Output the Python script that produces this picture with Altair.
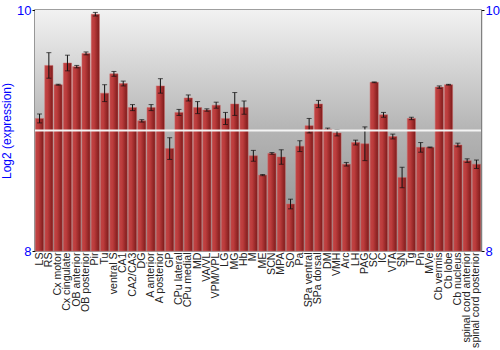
import altair as alt
import pandas as pd

regions = ["LS", "RS", "Cx motor", "Cx cingulate", "OB anterior", "OB posterior", "Pir", "Tu",
           "ventral S", "CA1", "CA2/CA3", "DG", "A anterior", "A posterior", "GP", "CPu lateral",
           "CPu medial", "MD", "VA/VL", "VPM/VPL", "LG", "MG", "Hb", "M", "ME", "SCN", "MPA", "SO",
           "Pa", "SPa ventral", "SPa dorsal", "DM", "VMH", "Arc", "LH", "PAG", "SC", "IC", "VTA",
           "SN", "Tg", "Pn", "MVe", "Cb vermis", "Cb lobe", "Cb nucleus", "spinal cord anterior",
           "spinal cord posterior"]
means = [9.10, 9.54, 9.38, 9.56, 9.53, 9.64, 9.965, 9.31,
         9.47, 9.39, 9.19, 9.08, 9.19, 9.37, 8.85, 9.15,
         9.27, 9.19, 9.17, 9.21, 9.10, 9.22, 9.19, 8.79, 8.63, 8.81, 8.78, 8.39,
         8.87, 9.04, 9.22, 9.01, 8.98, 8.72, 8.90, 8.89, 9.40, 9.13, 8.95,
         8.61, 9.10, 8.86, 8.86, 9.36, 9.38, 8.88, 8.75, 8.72]
errors = [0.037, 0.106, 0.004, 0.065, 0.01, 0.012, 0.015, 0.07,
          0.02, 0.02, 0.025, 0.01, 0.025, 0.06, 0.09, 0.025,
          0.025, 0.05, 0.01, 0.025, 0.05, 0.095, 0.055, 0.045, 0.005, 0.007, 0.06, 0.04,
          0.045, 0.06, 0.03, 0.01, 0.025, 0.015, 0.02, 0.14, 0.003, 0.02, 0.02,
          0.085, 0.01, 0.04, 0.003, 0.01, 0.003, 0.015, 0.015, 0.035]

df = pd.DataFrame({"region": regions, "mean": means, "err": errors})
df["lo"] = df["mean"] - df["err"]
df["hi"] = df["mean"] + df["err"]

W, H = 446, 241
blue = "#0000ff"
yscale = alt.Scale(domain=[8, 10], nice=False, zero=False)
xscale = alt.Scale(domain=regions, paddingInner=0.12, paddingOuter=0.05)
xaxis = alt.Axis(labelAngle=-90, labelFontSize=10.6, labelColor="#222222",
                 labelFont="Liberation Sans", ticks=False, domain=False,
                 labelPadding=1, title=None, labelOverlap=False, labelLimit=200)
xenc = alt.X("region:N", sort=regions, scale=xscale, axis=xaxis)


def yaxis(orient, title=None):
    kw = dict(orient=orient, values=[8, 9, 10], format="d", labelColor=blue,
              labelFontSize=13, labelFont="Liberation Sans", tickColor="#000000",
              tickSize=3, domainColor="#808080", domainWidth=1.5, grid=False,
              labelPadding=1)
    if title:
        kw.update(title=title, titleColor=blue, titleFontSize=12,
                  titleFont="Liberation Sans", titleFontWeight="normal", titlePadding=3)
    else:
        kw.update(title=None)
    return alt.Axis(**kw)


bg = alt.Chart(pd.DataFrame({"a": [0]})).mark_rect(
    color=alt.Gradient(gradient="linear", x1=0, x2=0, y1=0, y2=1,
                       stops=[alt.GradientStop(offset=0, color="#f2f2f2"),
                              alt.GradientStop(offset=0.5, color="#b4b4b4"),
                              alt.GradientStop(offset=1, color="#8c8c8c")])
).encode(x=alt.value(0), x2=alt.value(W), y=alt.value(0), y2=alt.value(H))

grid = alt.Chart(pd.DataFrame({"v": [9]})).mark_rule(color="#f4f4f4", strokeWidth=2).encode(
    y=alt.Y("v:Q", scale=yscale, axis=yaxis("right"))
)

bars = alt.Chart(df).mark_bar(
    color=alt.Gradient(gradient="linear", x1=0, x2=1, y1=0, y2=0,
                       stops=[alt.GradientStop(offset=0, color="#c04444"),
                              alt.GradientStop(offset=0.35, color="#bc3c3c"),
                              alt.GradientStop(offset=1, color="#7c1a1a")]),
    stroke="#d06868", strokeWidth=0.6, strokeOpacity=0.8
).encode(
    x=xenc,
    y=alt.Y("mean:Q", scale=yscale, axis=yaxis("left", "Log2 (expression)")),
    y2=alt.datum(8),
)

eb = alt.Chart(df).mark_rule(color="#111111", strokeWidth=1).encode(
    x=xenc, y=alt.Y("lo:Q", scale=yscale, axis=None), y2="hi:Q")
eb_lo = alt.Chart(df).mark_tick(color="#111111", thickness=1, size=5).encode(
    x=xenc, y=alt.Y("lo:Q", scale=yscale, axis=None))
eb_hi = alt.Chart(df).mark_tick(color="#111111", thickness=1, size=5).encode(
    x=xenc, y=alt.Y("hi:Q", scale=yscale, axis=None))

chart = alt.layer(bg, bars, eb, eb_lo, eb_hi, grid).resolve_axis(y="independent").properties(
    width=W, height=H,
    autosize=alt.AutoSizeParams(type="none"),
    padding={"left": 35, "top": 10, "right": 19, "bottom": 99},
    background="white",
).configure_view(stroke="#808080", strokeWidth=1.5)

chart.save("out.html", embed_options={"renderer": "svg", "actions": False})
